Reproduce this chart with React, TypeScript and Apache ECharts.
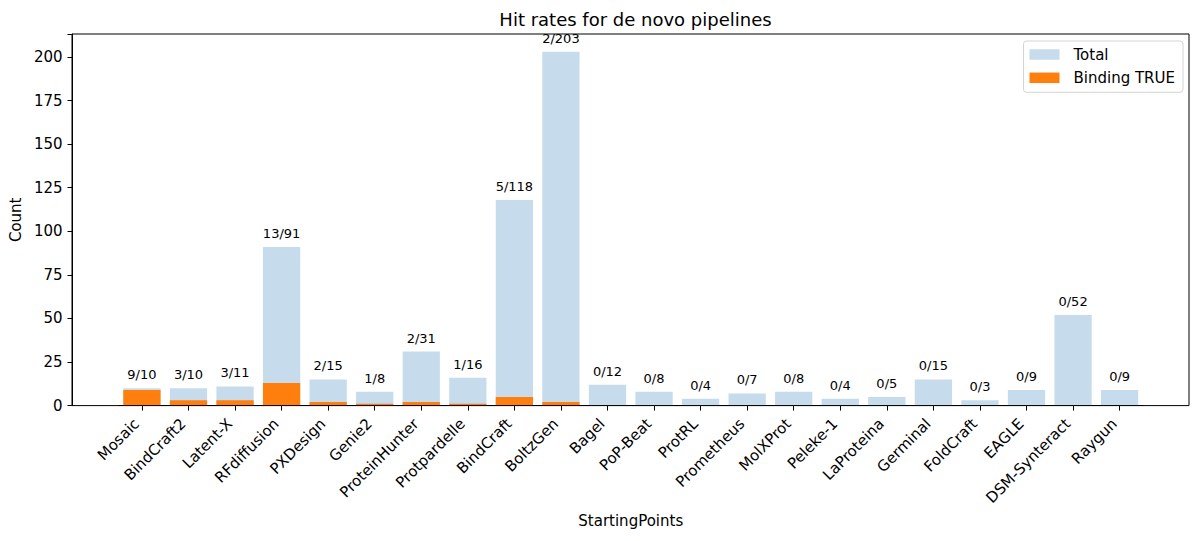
import React, { useEffect, useRef } from "react";
import * as echarts from "echarts";

const categories = [
  "Mosaic", "BindCraft2", "Latent-X", "RFdiffusion", "PXDesign", "Genie2",
  "ProteinHunter", "Protpardelle", "BindCraft", "BoltzGen", "Bagel", "PoP-Beat",
  "ProtRL", "Prometheus", "MolXProt", "Peleke-1", "LaProteina", "Germinal",
  "FoldCraft", "EAGLE", "DSM-Synteract", "Raygun",
];
const totalCounts = [10, 10, 11, 91, 15, 8, 31, 16, 118, 203, 12, 8, 4, 7, 8, 4, 5, 15, 3, 9, 52, 9];
const bindingCounts = [9, 3, 3, 13, 2, 1, 2, 1, 5, 2, 0, 0, 0, 0, 0, 0, 0, 0, 0, 0, 0, 0];
const yTicks = [0, 25, 50, 75, 100, 125, 150, 175, 200];

const FONT = "DejaVu Sans";
const FS = 15;

export default function App() {
  const ref = useRef<HTMLDivElement>(null);
  useEffect(() => {
    document.body.style.margin = "0";
    const chart = echarts.init(ref.current!, null, { renderer: "svg" });
    // matplotlib-like geometry
    const plotLeft = 72, plotRight = 1189, plotTop = 34, plotBottom = 405.6;
    const n = categories.length;
    const xMargin = (n - 0.2) * 0.05; // 5% autoscale margin on bar extent
    const unit = (plotRight - plotLeft) / (n - 0.2 + 2 * xMargin);
    const bandLeft = plotLeft + (xMargin - 0.1) * unit;
    const bandRight = bandLeft + n * unit;
    const yMax = Math.max(...totalCounts) * 1.05;

    chart.setOption({
      animation: false,
      textStyle: { fontFamily: FONT },
      title: {
        text: "Hit rates for de novo pipelines",
        left: (plotLeft + plotRight) / 2,
        textAlign: "center",
        top: 5,
        textStyle: { fontFamily: FONT, fontSize: 18, fontWeight: "normal", color: "#000" },
      },
      legend: {
        orient: "vertical",
        right: 17,
        top: 41,
        itemWidth: 30,
        itemHeight: 10.5,
        itemGap: 8.3,
        padding: [6, 8, 7, 6],
        borderColor: "#d4d4d4",
        borderWidth: 1,
        borderRadius: 3,
        backgroundColor: "rgba(255,255,255,0.8)",
        textStyle: { fontFamily: FONT, fontSize: FS, lineHeight: 15, color: "#000", padding: [0, 0, 0, 9] },
        data: [
          { name: "Total", icon: "rect" },
          { name: "Binding TRUE", icon: "rect" },
        ],
      },
      graphic: [
        {
          type: "rect",
          z: 100,
          silent: true,
          shape: { x: plotLeft, y: plotTop, width: plotRight - plotLeft, height: plotBottom - plotTop },
          style: { fill: "none", stroke: "#000", lineWidth: 1 },
        },
      ],
      grid: {
        left: bandLeft,
        right: 1200 - bandRight,
        top: plotTop,
        bottom: 541 - plotBottom,
      },
      xAxis: {
        type: "category",
        data: categories,
        name: "StartingPoints",
        nameLocation: "middle",
        nameGap: 108,
        nameTextStyle: { fontFamily: FONT, fontSize: FS, color: "#000" },
        axisLine: { show: true, lineStyle: { color: "#000", width: 1 } },
        axisTick: { show: true, alignWithLabel: true, length: 5, lineStyle: { color: "#000" } },
        axisLabel: {
          rotate: 45,
          interval: 0,
          margin: 21,
          verticalAlign: "bottom",
          fontFamily: FONT,
          fontSize: FS,
          color: "#000",
        },
        splitLine: { show: false },
      },
      yAxis: {
        type: "value",
        min: 0,
        max: yMax,
        interval: 25,
        offset: bandLeft - plotLeft,
        name: "Count",
        nameLocation: "middle",
        nameGap: 44,
        nameTextStyle: { fontFamily: FONT, fontSize: FS, color: "#000" },
        axisLine: { show: true, lineStyle: { color: "#000", width: 1 } },
        axisTick: { show: true, length: 5, lineStyle: { color: "#000" } },
        axisLabel: {
          margin: 10,
          fontFamily: FONT,
          fontSize: FS,
          color: "#000",
          formatter: (v: number) => (yTicks.includes(v) ? String(v) : ""),
        },
        splitLine: { show: false },
      },
      series: [
        {
          name: "Total",
          type: "bar",
          data: totalCounts,
          barWidth: 0.8 * unit,
          barGap: "-100%",
          itemStyle: { color: "#c6dbec" },
          label: {
            show: true,
            position: "top",
            distance: 7,
            fontFamily: FONT,
            fontSize: 13,
            color: "#000",
            formatter: (p: any) => `${bindingCounts[p.dataIndex]}/${totalCounts[p.dataIndex]}`,
          },
          z: 2,
        },
        {
          name: "Binding TRUE",
          type: "bar",
          data: bindingCounts,
          barWidth: 0.8 * unit,
          barGap: "-100%",
          itemStyle: { color: "#ff7f0e" },
          z: 3,
        },
      ],
    });
    return () => chart.dispose();
  }, []);
  return <div ref={ref} style={{ width: 1200, height: 541 }} />;
}
